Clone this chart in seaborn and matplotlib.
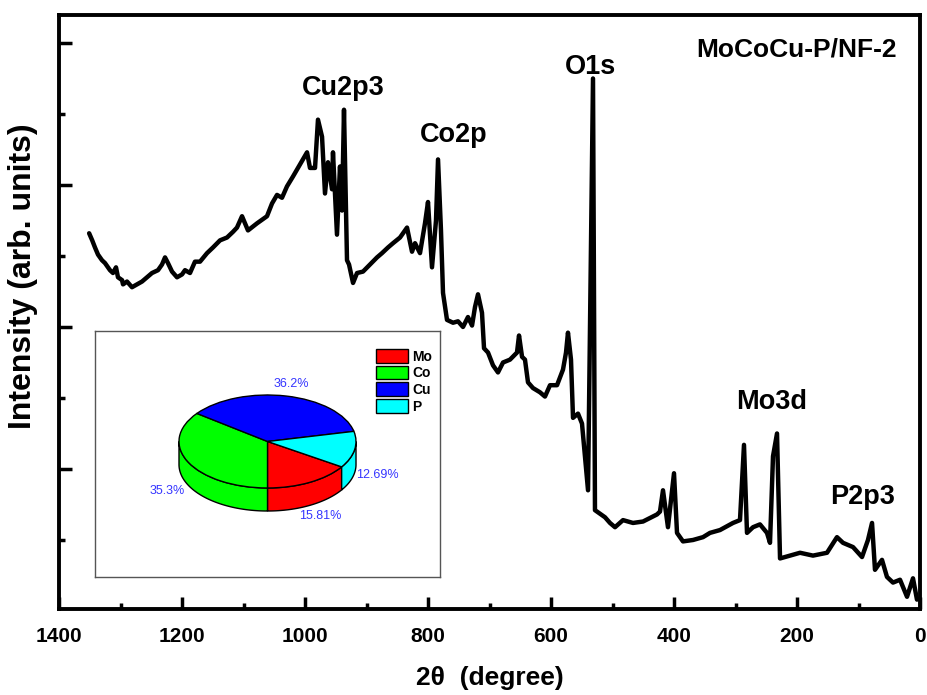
import numpy as np
import matplotlib
matplotlib.use('Agg')
import matplotlib.pyplot as plt
import seaborn as sns
from matplotlib.ticker import MultipleLocator, NullFormatter
from matplotlib.patches import Polygon

# XPS survey (binding energy / intensity in a.u.)
energy = [1351, 1346, 1341.5, 1336.6, 1330.1, 1325.2, 1317.1, 1312.2, 1307.3, 1304.1,
          1297.5, 1295.9, 1289.4, 1281.3, 1273.2, 1265, 1256.9, 1248.8, 1239, 1232.5,
          1227.6, 1222.8, 1216.2, 1208.1, 1200, 1195.1, 1187, 1178.9, 1170.7, 1159.3,
          1149.6, 1138.2, 1126.8, 1117.1, 1110.6, 1102.4, 1092.7, 1078, 1061.8, 1053.6,
          1045.5, 1037.4, 1029.3, 1019.5, 1011.4, 1003.2, 996.7, 991.9, 983.7, 978.9,
          972.3, 967.5, 962.6, 956.1, 954.5, 948, 943.1, 939.8, 936.6, 931.7,
          928.4, 921.9, 915.4, 905.7, 894.3, 882.9, 874.8, 865, 856.9, 845.5,
          834.1, 826, 821.1, 813, 804.9, 800, 793.5, 787, 783.7, 778.9,
          775.6, 769.1, 759.3, 751.2, 743.1, 735, 728.4, 723.6, 718.7, 712.2,
          708.9, 702.4, 694.3, 686.2, 678, 666.7, 655.3, 652, 647.1, 642.3,
          637.4, 629.3, 617.9, 609.8, 601.6, 590.2, 580.5, 575.6, 572.4, 567.5,
          564.2, 556.1, 549.6, 539.8, 531.7, 528.5, 512.2, 504.1, 495.9, 482.9,
          466.7, 450.4, 427.6, 422.8, 417.9, 409.8, 400, 395.1, 385.4, 369.1,
          352.8, 341.5, 325.2, 304.1, 292.7, 286.2, 281.3, 271.5, 260.2, 248.8,
          243.9, 239, 232.5, 227.6, 195.1, 174, 151.2, 135, 125.2, 108.9,
          94.3, 84.6, 78, 73.2, 61.8, 53.7, 43.9, 32.5, 21.1, 11.4, 4.9]
intensity = [2.66, 2.61, 2.56, 2.51, 2.47, 2.45, 2.40, 2.38, 2.42, 2.35,
             2.33, 2.30, 2.32, 2.28, 2.30, 2.32, 2.35, 2.38, 2.40, 2.44,
             2.49, 2.45, 2.39, 2.35, 2.37, 2.40, 2.38, 2.46, 2.46, 2.52,
             2.56, 2.61, 2.63, 2.67, 2.70, 2.78, 2.68, 2.73, 2.78, 2.87,
             2.93, 2.91, 2.99, 3.06, 3.12, 3.18, 3.23, 3.12, 3.12, 3.46,
             3.34, 2.94, 3.16, 2.97, 3.23, 2.65, 3.13, 2.82, 3.53, 2.47,
             2.44, 2.31, 2.38, 2.39, 2.44, 2.49, 2.52, 2.56, 2.59, 2.63,
             2.70, 2.53, 2.59, 2.52, 2.73, 2.88, 2.42, 2.75, 3.18, 2.68,
             2.24, 2.05, 2.03, 2.04, 2.00, 2.07, 2.01, 2.14, 2.23, 2.10,
             1.85, 1.82, 1.73, 1.68, 1.75, 1.77, 1.82, 1.94, 1.79, 1.77,
             1.61, 1.57, 1.54, 1.51, 1.59, 1.59, 1.70, 1.82, 1.96, 1.77,
             1.36, 1.39, 1.32, 0.85, 3.75, 0.71, 0.66, 0.62, 0.59, 0.64,
             0.62, 0.63, 0.68, 0.70, 0.85, 0.59, 0.97, 0.55, 0.49, 0.50,
             0.52, 0.55, 0.57, 0.62, 0.64, 1.17, 0.55, 0.59, 0.61, 0.55,
             0.48, 1.09, 1.25, 0.37, 0.41, 0.39, 0.41, 0.52, 0.48, 0.45,
             0.38, 0.50, 0.62, 0.29, 0.36, 0.24, 0.20, 0.22, 0.10, 0.23, 0.08]

peak_names = ['Cu2p3', 'Co2p', 'O1s', 'Mo3d', 'P2p3']
peak_x = [937, 758, 535, 241, 94]
peak_y = [3.68, 3.35, 3.83, 1.47, 0.80]
sample_name = 'MoCoCu-P/NF-2'

# atomic fractions for the inset
elements = ['Mo', 'Co', 'Cu', 'P']
fractions = [15.81, 35.3, 36.2, 12.69]
pct_labels = ['15.81%', '35.3%', '36.2%', '12.69%']
pie_colors = ['#ff0000', '#00ff00', '#0000ff', '#00ffff']

sns.set_style('ticks')
plt.rcParams['font.family'] = ['Liberation Sans', 'DejaVu Sans']
plt.rcParams['font.weight'] = 'bold'
plt.rcParams['text.color'] = 'black'
plt.rcParams['axes.labelcolor'] = 'black'
plt.rcParams['xtick.color'] = 'black'
plt.rcParams['ytick.color'] = 'black'

W, H = 927, 695
fig = plt.figure(figsize=(W / 100, H / 100), dpi=100)
ax = fig.add_axes([59 / W, 1 - 609 / H, 861 / W, 594 / H])

sns.lineplot(x=energy, y=intensity, ax=ax, color='black', linewidth=3.2, sort=False)

ax.set_xlim(1400, 0)
ax.set_ylim(0.014, 4.197)
ax.xaxis.set_major_locator(MultipleLocator(200))
ax.xaxis.set_minor_locator(MultipleLocator(100))
ax.yaxis.set_major_locator(MultipleLocator(1))
ax.yaxis.set_minor_locator(MultipleLocator(0.5))
ax.yaxis.set_major_formatter(NullFormatter())
ax.tick_params(which='both', direction='in', width=2.5, top=False, right=False)
ax.tick_params(which='major', length=9)
ax.tick_params(which='minor', length=4.5)
ax.tick_params(axis='x', labelsize=15, pad=13)
for lab in ax.get_xticklabels():
    lab.set_fontweight('bold')
for s in ax.spines.values():
    s.set_linewidth(2.8)
    s.set_color('black')

ax.set_xlabel('2θ  (degree)', fontsize=19, fontweight='bold', labelpad=14)
ax.set_ylabel('Intensity (arb. units)', fontsize=23, fontweight='bold')
ax.yaxis.set_label_coords(-0.024, 0.56)

for name, px, py in zip(peak_names, peak_x, peak_y):
    ax.text(px, py, name, fontsize=19.5, fontweight='bold', ha='center', va='center')
ax.text(201.6, 3.951, sample_name, fontsize=19, fontweight='bold', ha='center', va='center')

# inset: 3D-looking pie of the composition
ax_in = fig.add_axes([95 / W, 1 - 577 / H, 345 / W, 246 / H])
start = -90 + 360 * fractions[0] / sum(fractions)
wedges, texts = ax_in.pie(fractions, colors=pie_colors, startangle=start, counterclock=False,
                          labels=pct_labels, labeldistance=1.26, frame=True,
                          wedgeprops=dict(edgecolor='black', linewidth=1, zorder=3),
                          textprops=dict(color='#3535ff', fontsize=9, fontweight='normal'))
depth = 0.495
for w in wedges:
    t = np.linspace(w.theta1, w.theta2, 300)
    extra = [a for a in (-180, 0, 180, 360) if w.theta1 < a < w.theta2]
    t = np.sort(np.concatenate([t, extra]))
    r = np.deg2rad(t)
    keep = np.sin(r) <= 1e-9
    if keep.sum() < 2:
        continue
    r = r[keep]
    top = np.column_stack([np.cos(r), np.sin(r)])
    bot = np.column_stack([np.cos(r), np.sin(r) - depth])[::-1]
    ax_in.add_patch(Polygon(np.vstack([top, bot]), closed=True, facecolor=w.get_facecolor(),
                            edgecolor='black', linewidth=1, zorder=2))
for tx in texts:
    x, y = tx.get_position()
    if y < 0:
        y -= depth
    tx.set_position((x, y))
    tx.set_ha('center')
    tx.set_va('center')

ax_in.set_aspect('auto')
ax_in.set_xlim(-1.949, 1.949)
ax_in.set_ylim(-2.914, 2.376)
ax_in.set_xticks([])
ax_in.set_yticks([])
for s in ax_in.spines.values():
    s.set_visible(True)
    s.set_linewidth(1)
    s.set_color('#555555')

ax_in.legend(wedges, elements, loc='upper left', bbox_to_anchor=(376 / W, 1 - 349 / H),
             bbox_transform=fig.transFigure, frameon=False, handlelength=2.3,
             handleheight=1.15, labelspacing=0.15, handletextpad=0.3, borderpad=0,
             borderaxespad=0, prop=dict(size=10, weight='bold'))

fig.savefig('out.png', dpi=100)
